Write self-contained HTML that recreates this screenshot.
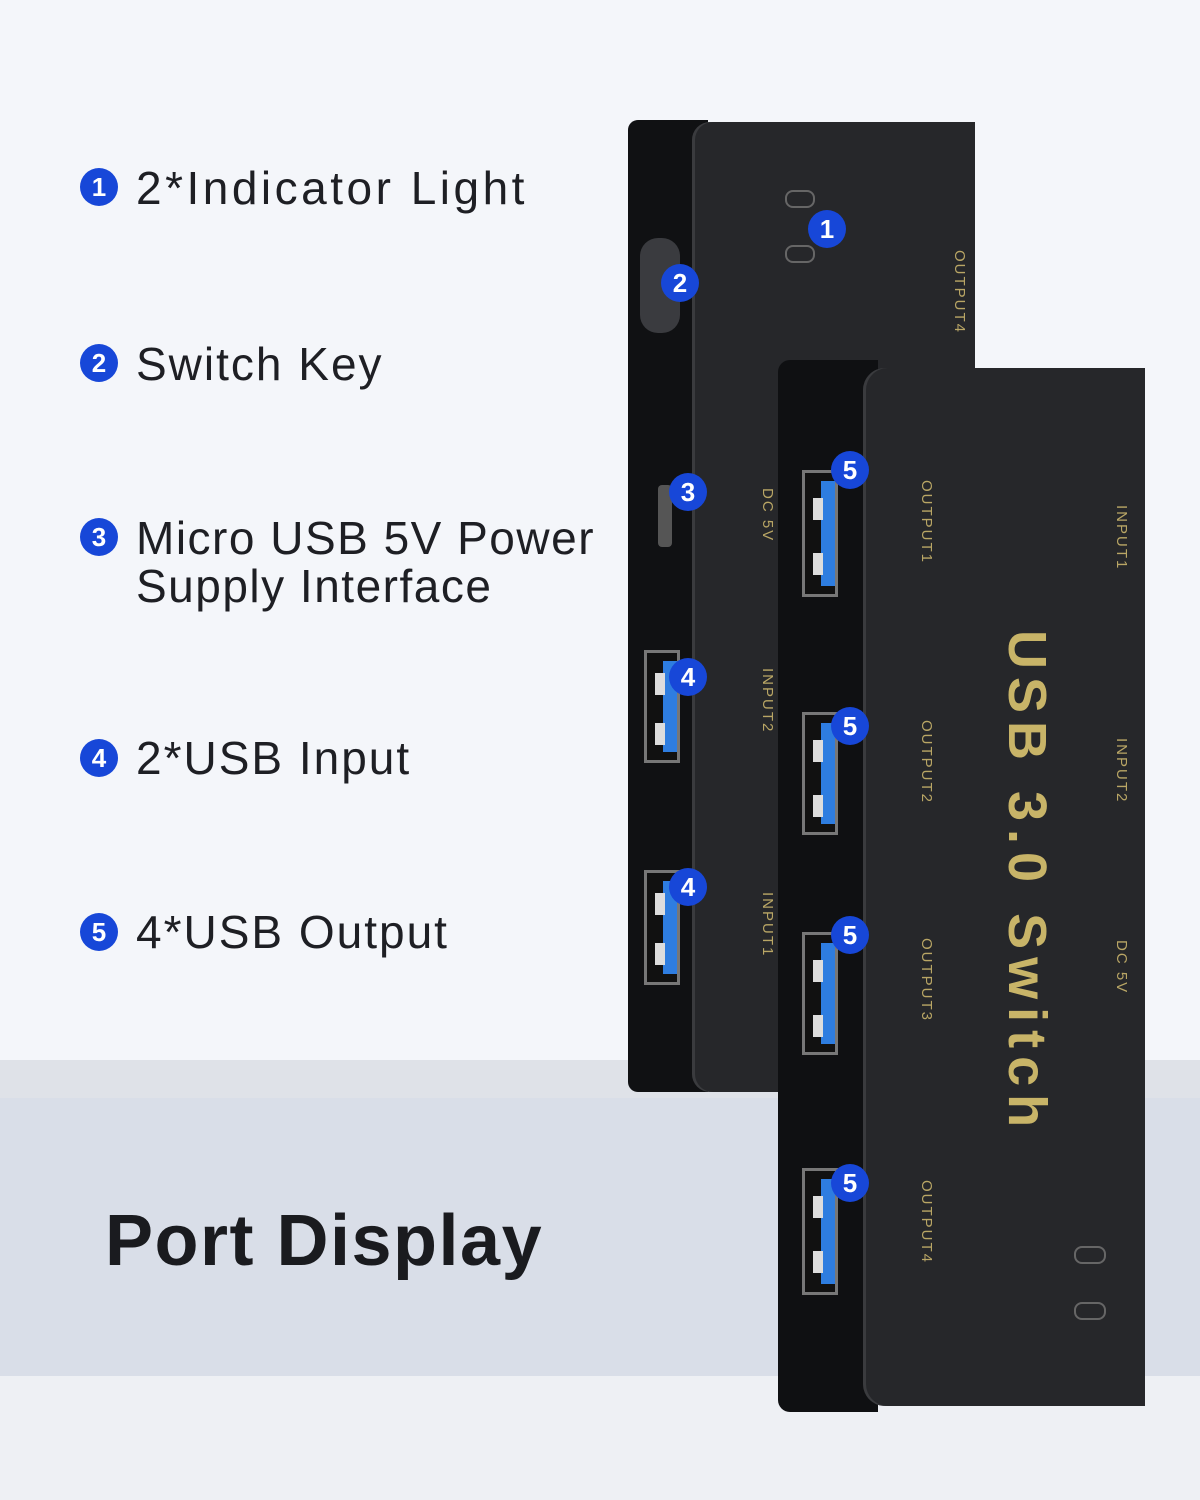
<!DOCTYPE html>
<html><head><meta charset="utf-8"><style>
body{margin:0;width:1200px;height:1500px;position:relative;overflow:hidden;background:#f4f6fa;font-family:"Liberation Sans",sans-serif}
.a{position:absolute}
.b{position:absolute;width:38px;height:38px;border-radius:50%;background:#1747d8;color:#fff;font-size:26px;line-height:38px;text-align:center;font-weight:bold}
.lt{position:absolute;left:136px;font-size:46px;color:#1e1f24;line-height:48px;letter-spacing:2px}
.rot{position:absolute;color:#b9a665;transform:rotate(90deg);transform-origin:left top;white-space:nowrap;font-size:15px;letter-spacing:2px}
.port{position:absolute;width:36px;background:#111;border:3px solid #777;box-sizing:border-box}
.port i{position:absolute;right:0;top:8px;bottom:8px;width:14px;background:#2e7de0}
.port s{position:absolute;left:8px;width:10px;height:22px;background:#ddd}
</style></head><body>
<div class="a" style="left:0;top:1060px;width:1200px;height:40px;background:#dfe2e8"></div>
<div class="a" style="left:0;top:1098px;width:1200px;height:278px;background:#d9dee8"></div>
<div class="a" style="left:0;top:1376px;width:1200px;height:124px;background:#eef0f4"></div>

<div class="b" style="left:80px;top:168px">1</div><div class="lt" style="top:164px;letter-spacing:3.5px">2*Indicator Light</div>
<div class="b" style="left:80px;top:344px">2</div><div class="lt" style="top:340px">Switch Key</div>
<div class="b" style="left:80px;top:518px">3</div><div class="lt" style="top:514px;letter-spacing:1.5px">Micro USB 5V Power<br>Supply Interface</div>
<div class="b" style="left:80px;top:739px">4</div><div class="lt" style="top:734px">2*USB Input</div>
<div class="b" style="left:80px;top:913px">5</div><div class="lt" style="top:908px">4*USB Output</div>
<div class="a" style="left:105px;top:1200px;font-size:72px;font-weight:bold;color:#1a1b1f;letter-spacing:1.5px">Port Display</div>

<!-- back device -->
<div class="a" style="left:628px;top:120px;width:80px;height:972px;background:#101113;border-radius:10px 0 0 10px"></div>
<div class="a" style="left:692px;top:122px;width:283px;height:970px;background:#26272a;border-radius:18px 0 0 18px;box-shadow:inset 3px 0 0 #3a3b3e"></div>
<div class="a" style="left:640px;top:238px;width:40px;height:95px;background:#3a3b3f;border-radius:18px"></div>
<div class="a" style="left:658px;top:485px;width:14px;height:62px;background:#555;border-radius:4px"></div>
<div class="port" style="left:644px;top:650px;height:113px"><i></i><s style="top:20px"></s><s style="top:70px"></s></div>
<div class="port" style="left:644px;top:870px;height:115px"><i></i><s style="top:20px"></s><s style="top:70px"></s></div>
<div class="a" style="left:785px;top:190px;width:26px;height:14px;border:2px solid #666;border-radius:8px"></div>
<div class="a" style="left:785px;top:245px;width:26px;height:14px;border:2px solid #666;border-radius:8px"></div>
<div class="rot" style="left:968px;top:250px">OUTPUT4</div>
<div class="rot" style="left:776px;top:488px">DC 5V</div>
<div class="rot" style="left:776px;top:668px">INPUT2</div>
<div class="rot" style="left:776px;top:892px">INPUT1</div>

<!-- front device -->
<div class="a" style="left:778px;top:360px;width:100px;height:1052px;background:#0f1012;border-radius:12px 0 0 12px"></div>
<div class="a" style="left:863px;top:368px;width:282px;height:1038px;background:#26272a;border-radius:22px 0 0 22px;box-shadow:inset 3px 0 0 #3a3b3e"></div>
<div class="port" style="left:802px;top:470px;height:127px"><i></i><s style="top:25px"></s><s style="top:80px"></s></div>
<div class="port" style="left:802px;top:712px;height:123px"><i></i><s style="top:25px"></s><s style="top:80px"></s></div>
<div class="port" style="left:802px;top:932px;height:123px"><i></i><s style="top:25px"></s><s style="top:80px"></s></div>
<div class="port" style="left:802px;top:1168px;height:127px"><i></i><s style="top:25px"></s><s style="top:80px"></s></div>
<div class="rot" style="left:935px;top:480px">OUTPUT1</div>
<div class="rot" style="left:935px;top:720px">OUTPUT2</div>
<div class="rot" style="left:935px;top:938px">OUTPUT3</div>
<div class="rot" style="left:935px;top:1180px">OUTPUT4</div>
<div class="rot" style="left:1130px;top:505px">INPUT1</div>
<div class="rot" style="left:1130px;top:738px">INPUT2</div>
<div class="rot" style="left:1130px;top:940px">DC 5V</div>
<div class="rot" style="left:1058px;top:630px;font-size:54px;font-weight:bold;letter-spacing:8px;color:#c8b468">USB 3.0 Switch</div>
<div class="a" style="left:1074px;top:1246px;width:28px;height:14px;border:2px solid #666;border-radius:8px"></div>
<div class="a" style="left:1074px;top:1302px;width:28px;height:14px;border:2px solid #666;border-radius:8px"></div>

<div class="b" style="left:808px;top:210px">1</div>
<div class="b" style="left:661px;top:264px">2</div>
<div class="b" style="left:669px;top:473px">3</div>
<div class="b" style="left:669px;top:658px">4</div>
<div class="b" style="left:669px;top:868px">4</div>
<div class="b" style="left:831px;top:451px">5</div>
<div class="b" style="left:831px;top:707px">5</div>
<div class="b" style="left:831px;top:916px">5</div>
<div class="b" style="left:831px;top:1164px">5</div>
</body></html>
